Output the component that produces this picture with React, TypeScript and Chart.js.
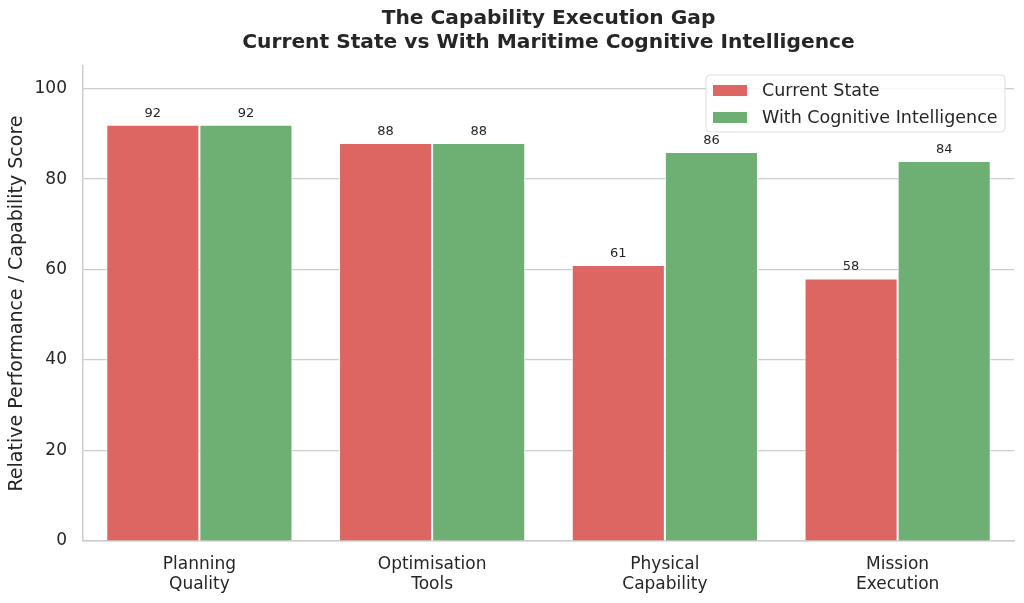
import React, { useEffect, useRef } from 'react';
import { Chart, registerables } from 'chart.js';

Chart.register(...registerables);

// data
const categories = [['Planning', 'Quality'], ['Optimisation', 'Tools'], ['Physical', 'Capability'], ['Mission', 'Execution']];
const currentState = [92, 88, 61, 58];
const withCognitive = [92, 88, 86, 84];
const seriesNames = ['Current State', 'With Cognitive Intelligence'];
const titleLines = ['The Capability Execution Gap', 'Current State vs With Maritime Cognitive Intelligence'];
const yTicks = [0, 20, 40, 60, 80, 100];

const RED = '#dd6662';
const GREEN = '#6eaf73';
const TEXT = '#262626';
const GRID = '#cccccc';
const FONT = '"DejaVu Sans", sans-serif';

// title centred over the plot area, like matplotlib does
const titlePlugin = {
  id: 'plotTitle',
  afterDraw(chart: any) {
    const { ctx, chartArea } = chart;
    const cx = (chartArea.left + chartArea.right) / 2;
    ctx.save();
    ctx.fillStyle = TEXT;
    ctx.font = `bold 20.2px ${FONT}`;
    ctx.textAlign = 'center';
    ctx.textBaseline = 'middle';
    ctx.fillText(titleLines[0], cx, 19);
    ctx.fillText(titleLines[1], cx, 43);
    ctx.restore();
  },
};

// numbers above each bar
const valueLabels = {
  id: 'valueLabels',
  afterDatasetsDraw(chart: any) {
    const { ctx } = chart;
    ctx.save();
    ctx.fillStyle = TEXT;
    ctx.font = `13px ${FONT}`;
    ctx.textAlign = 'center';
    ctx.textBaseline = 'bottom';
    chart.data.datasets.forEach((ds: any, i: number) => {
      chart.getDatasetMeta(i).data.forEach((bar: any, j: number) => {
        ctx.fillText(String(ds.data[j]), bar.x, bar.y - 5);
      });
    });
    ctx.restore();
  },
};

// legend box inside the plot, upper right
const boxLegend = {
  id: 'boxLegend',
  afterDraw(chart: any) {
    const { ctx, chartArea } = chart;
    const w = 299, h = 57;
    const x = chartArea.right - 9 - w;
    const y = chartArea.top + 9;
    ctx.save();
    ctx.beginPath();
    ctx.roundRect(x, y, w, h, 4);
    ctx.fillStyle = 'rgba(255,255,255,0.85)';
    ctx.fill();
    ctx.strokeStyle = '#dddddd';
    ctx.lineWidth = 1;
    ctx.stroke();
    ctx.font = `17.5px ${FONT}`;
    ctx.textBaseline = 'middle';
    ctx.textAlign = 'left';
    const colors = [RED, GREEN];
    seriesNames.forEach((name, i) => {
      const cy = y + 15.5 + i * 27;
      ctx.fillStyle = colors[i];
      ctx.fillRect(x + 7, cy - 5.5, 34, 11);
      ctx.fillStyle = TEXT;
      ctx.fillText(name, x + 56, cy + 1);
    });
    ctx.restore();
  },
};

const App: React.FC = () => {
  const canvasRef = useRef<HTMLCanvasElement | null>(null);
  const chartRef = useRef<Chart | null>(null);

  useEffect(() => {
    if (!canvasRef.current) return;
    const ctx = canvasRef.current.getContext('2d');
    if (!ctx) return;
    if (chartRef.current) chartRef.current.destroy();

    chartRef.current = new Chart(ctx, {
      type: 'bar',
      data: {
        labels: categories,
        datasets: [
          {
            label: seriesNames[0],
            data: currentState,
            backgroundColor: RED,
            borderColor: '#ffffff',
            borderWidth: 1,
            categoryPercentage: 0.8,
            barPercentage: 1.0,
          },
          {
            label: seriesNames[1],
            data: withCognitive,
            backgroundColor: GREEN,
            borderColor: '#ffffff',
            borderWidth: 1,
            categoryPercentage: 0.8,
            barPercentage: 1.0,
          },
        ],
      },
      options: {
        animation: false,
        responsive: true,
        maintainAspectRatio: false,
        layout: { padding: { top: 66, right: 10, left: 0, bottom: 0 } },
        plugins: {
          legend: { display: false },
          title: { display: false },
          tooltip: { enabled: false },
        },
        scales: {
          x: {
            grid: { display: false, drawTicks: false },
            border: { color: GRID, width: 1.5 },
            ticks: { color: TEXT, font: { family: FONT, size: 17 }, padding: 13 },
            afterFit: (s: any) => { s.height = 62; },
          },
          y: {
            min: 0,
            max: 105,
            grid: { color: GRID, lineWidth: 1.2, drawTicks: false },
            border: { color: GRID, width: 1.5 },
            ticks: {
              color: TEXT,
              font: { family: FONT, size: 17 },
              padding: 16,
              stepSize: 20,
              includeBounds: false,
            },
            afterBuildTicks: (s: any) => { s.ticks = yTicks.map((v) => ({ value: v })); },
            title: {
              display: true,
              text: 'Relative Performance / Capability Score',
              color: TEXT,
              font: { family: FONT, size: 19 },
              padding: { top: 6, bottom: 0 },
            },
            afterFit: (s: any) => { s.width = 83; },
          },
        },
      },
      plugins: [titlePlugin, valueLabels, boxLegend],
    });

    return () => {
      if (chartRef.current) {
        chartRef.current.destroy();
        chartRef.current = null;
      }
    };
  }, []);

  return (
    <div style={{ position: 'absolute', left: 0, top: 0, width: '1024px', height: '603px', background: '#fff' }}>
      <canvas ref={canvasRef}></canvas>
    </div>
  );
};

export default App;
